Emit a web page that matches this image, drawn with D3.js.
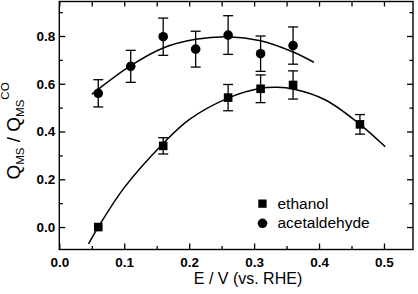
<!DOCTYPE html>
<html>
<head>
<meta charset="utf-8">
<script src="https://cdn.jsdelivr.net/npm/d3@7"></script>
<style>
  body { margin: 0; background: #fff; }
  svg { display: block; font-family: Arial, "Liberation Sans", sans-serif; }
</style>
</head>
<body>
<div id="chart"></div>
<script>
// measured points
const acetE = [0.06, 0.11, 0.16, 0.21, 0.26, 0.31, 0.36]
const acetVal = [0.56, 0.673, 0.797, 0.745, 0.804, 0.726, 0.76]
const acetErr = [0.057, 0.067, 0.078, 0.075, 0.081, 0.074, 0.078]

const ethE = [0.06, 0.16, 0.26, 0.31, 0.36, 0.463]
const ethVal = [0.0, 0.34, 0.542, 0.579, 0.595, 0.43]
const ethErr = [0, 0.034, 0.055, 0.058, 0.059, 0.041]

// fitted curves
const acetFitE = [0.05, 0.11, 0.16, 0.21, 0.26, 0.31, 0.36, 0.392]
const acetFitVal = [0.556, 0.676, 0.75, 0.786, 0.797, 0.78, 0.733, 0.69]
const ethFitE = [0.045, 0.06, 0.1, 0.16, 0.2, 0.26, 0.31, 0.336, 0.36, 0.41, 0.463, 0.502]
const ethFitVal = [-0.07, 0.0, 0.165, 0.35, 0.45, 0.54, 0.581, 0.585, 0.578, 0.532, 0.43, 0.336]

const xTicks = [0, 0.1, 0.2, 0.3, 0.4, 0.5]
const xMinor = [0.05, 0.15, 0.25, 0.35, 0.45]
const yTicks = [0, 0.2, 0.4, 0.6, 0.8]
const yMinor = [0.1, 0.3, 0.5, 0.7, 0.9]

const width = 418, height = 294
const mLeft = 59.3, mRight = 413, mTop = 1.5, mBottom = 249.5

const svg = d3.select("#chart").append("svg")
    .attr("width", width)
    .attr("height", height)

const x = d3.scaleLinear().domain([0, 0.5447]).range([mLeft, mRight])
const y = d3.scaleLinear().domain([-0.094, 0.9445]).range([mBottom, mTop])

const fmt = d3.format(".1f")

function styleAxis(g) {
    g.select(".domain").remove()
    g.selectAll("line").attr("stroke", "#000").attr("stroke-width", 1.3)
    g.selectAll("text").attr("fill", "#000").style("font-size", "13.5px").style("font-weight", "bold")
}

svg.append("g").attr("transform", `translate(0,${mBottom})`)
    .call(d3.axisBottom(x).tickValues(xTicks).tickFormat(fmt).tickSize(-6).tickPadding(7.5)).call(styleAxis)
svg.append("g").attr("transform", `translate(0,${mBottom})`)
    .call(d3.axisBottom(x).tickValues(xMinor).tickFormat("").tickSize(-3.5)).call(styleAxis)
svg.append("g").attr("transform", `translate(0,${mTop})`)
    .call(d3.axisTop(x).tickValues(xTicks.concat(xMinor)).tickFormat("").tickSize(-5)).call(styleAxis)

svg.append("g").attr("transform", `translate(${mLeft},0)`)
    .call(d3.axisLeft(y).tickValues(yTicks).tickFormat(fmt).tickSize(-6).tickPadding(4)).call(styleAxis)
svg.append("g").attr("transform", `translate(${mLeft},0)`)
    .call(d3.axisLeft(y).tickValues(yMinor).tickFormat("").tickSize(-3.5)).call(styleAxis)
svg.append("g").attr("transform", `translate(${mRight},0)`)
    .call(d3.axisRight(y).tickValues(yTicks).tickFormat("").tickSize(-6)).call(styleAxis)
svg.append("g").attr("transform", `translate(${mRight},0)`)
    .call(d3.axisRight(y).tickValues(yMinor).tickFormat("").tickSize(-3.5)).call(styleAxis)

svg.append("rect")
    .attr("x", mLeft).attr("y", mTop)
    .attr("width", mRight - mLeft).attr("height", mBottom - mTop)
    .attr("fill", "none").attr("stroke", "#000").attr("stroke-width", 1.4)

// fit lines
const line = d3.line().x(d => x(d[0])).y(d => y(d[1])).curve(d3.curveCatmullRom)
svg.append("path")
    .datum(acetFitE.map((e, i) => [e, acetFitVal[i]]))
    .attr("d", line).attr("fill", "none").attr("stroke", "#000").attr("stroke-width", 1.5)
svg.append("path")
    .datum(ethFitE.map((e, i) => [e, ethFitVal[i]]))
    .attr("d", line).attr("fill", "none").attr("stroke", "#000").attr("stroke-width", 1.5)

// error bars
function errorBars(es, vals, errs) {
    const g = svg.append("g").attr("stroke", "#000").attr("stroke-width", 1.3)
    es.forEach((e, i) => {
        if (!errs[i]) return
        const cx = x(e), y1 = y(vals[i] + errs[i]), y2 = y(vals[i] - errs[i])
        g.append("line").attr("x1", cx).attr("x2", cx).attr("y1", y1).attr("y2", y2)
        g.append("line").attr("x1", cx - 5).attr("x2", cx + 5).attr("y1", y1).attr("y2", y1)
        g.append("line").attr("x1", cx - 5).attr("x2", cx + 5).attr("y1", y2).attr("y2", y2)
    })
}
errorBars(acetE, acetVal, acetErr)
errorBars(ethE, ethVal, ethErr)

svg.append("g").selectAll("circle")
    .data(acetE)
    .join("circle")
    .attr("cx", d => x(d))
    .attr("cy", (d, i) => y(acetVal[i]))
    .attr("r", 4.8)
    .attr("fill", "#000")

const sq = 8.6
svg.append("g").selectAll("rect")
    .data(ethE)
    .join("rect")
    .attr("x", d => x(d) - sq / 2)
    .attr("y", (d, i) => y(ethVal[i]) - sq / 2)
    .attr("width", sq).attr("height", sq)
    .attr("fill", "#000")

// legend
const lg = svg.append("g")
lg.append("rect").attr("x", 258.3).attr("y", 199.5).attr("width", 8.3).attr("height", 8.3).attr("fill", "#000")
lg.append("text").attr("x", 277.5).attr("y", 208.5).text("ethanol")
    .style("font-size", "15.5px").attr("fill", "#000")
lg.append("circle").attr("cx", 262.5).attr("cy", 223.3).attr("r", 4.8).attr("fill", "#000")
lg.append("text").attr("x", 277.5).attr("y", 228).text("acetaldehyde")
    .style("font-size", "15.5px").attr("fill", "#000")

// axis titles
svg.append("text")
    .attr("x", 248).attr("y", 284)
    .attr("text-anchor", "middle")
    .style("font-size", "16px")
    .text("E / V (vs. RHE)")

const yt = svg.append("text")
    .attr("transform", "translate(20,131) rotate(-90)")
    .attr("text-anchor", "middle")
    .style("font-size", "19px")
yt.append("tspan").text("Q")
yt.append("tspan").text("MS").style("font-size", "11.5px").attr("dy", 4)
yt.append("tspan").text(" / Q").attr("dy", -4)
yt.append("tspan").text("MS").style("font-size", "11.5px").attr("dy", 4)
yt.append("tspan").text("CO").style("font-size", "11.5px").attr("dy", -15)
</script>
</body>
</html>
